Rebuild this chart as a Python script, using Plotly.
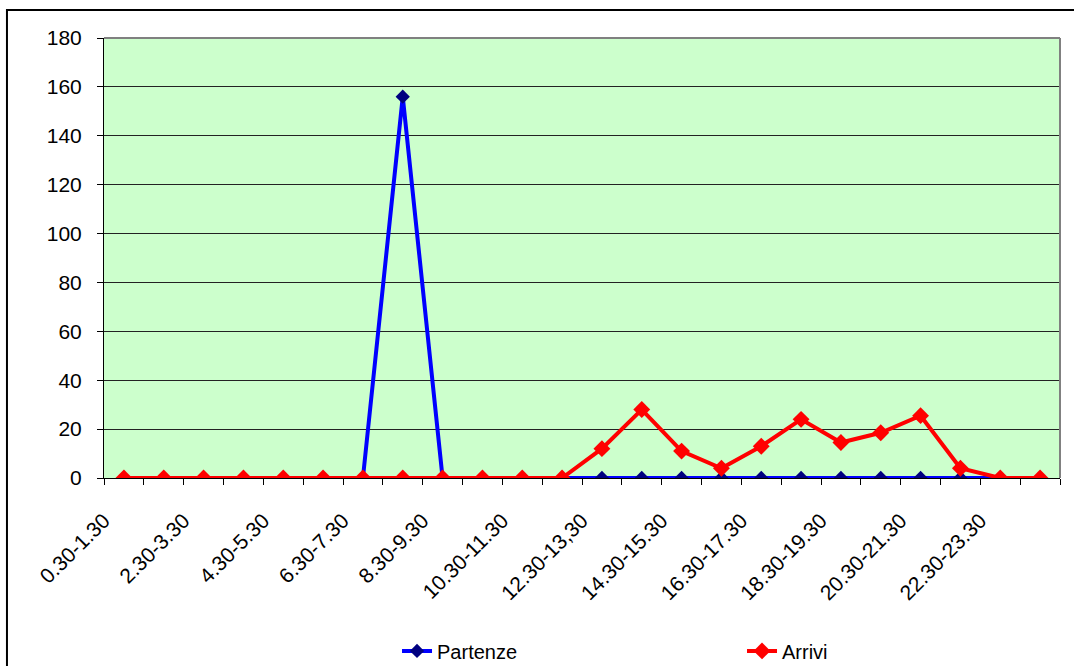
import plotly.graph_objects as go

# Fasce orarie (hourly slots)
fasce = [
    "0.30-1.30", "1.30-2.30", "2.30-3.30", "3.30-4.30", "4.30-5.30", "5.30-6.30",
    "6.30-7.30", "7.30-8.30", "8.30-9.30", "9.30-10.30", "10.30-11.30", "11.30-12.30",
    "12.30-13,30", "13.30-14.30", "14.30-15.30", "15.30-16.30", "16.30-17.30", "17.30-18.30",
    "18.30-19.30", "19.30-20.30", "20.30-21.30", "21.30-22.30", "22.30-23.30", "23.30-0.30",
]

partenze = [0, 0, 0, 0, 0, 0, 0, 156, 0, 0, 0, 0,
            0, 0, 0, 0, 0, 0, 0, 0, 0, 0, 0, 0]
arrivi = [0, 0, 0, 0, 0, 0, 0, 0, 0, 0, 0, 0,
          12, 28, 11, 4, 13, 24, 14.5, 18.5, 25.5, 4, 0, 0]

# only every other slot gets a printed label
etichette = [f if i % 2 == 0 else "" for i, f in enumerate(fasce)]

FONT = "Arial, Liberation Sans, sans-serif"

fig = go.Figure()
fig.add_trace(go.Scatter(
    x=fasce, y=partenze, name="Partenze", mode="lines+markers",
    line=dict(color="#0000FF", width=4),
    marker=dict(symbol="diamond", size=11, color="#000080"),
))
fig.add_trace(go.Scatter(
    x=fasce, y=arrivi, name="Arrivi", mode="lines+markers",
    line=dict(color="#FF0000", width=4),
    marker=dict(symbol="diamond", size=13, color="#FF0000"),
))

fig.update_layout(
    width=1074, height=666,
    margin=dict(l=104, r=14, t=38, b=188, autoexpand=False),
    paper_bgcolor="white",
    plot_bgcolor="#CCFFCC",
    font=dict(family=FONT, size=20, color="black"),
    showlegend=True,
    legend=dict(
        orientation="h", x=0.3065, y=-0.393, xanchor="left", yanchor="middle",
        entrywidth=300, font=dict(family=FONT, size=20, color="black"),
        bgcolor="rgba(0,0,0,0)",
    ),
    xaxis=dict(
        type="category", categoryorder="array", categoryarray=fasce,
        range=[-0.5, 23.5], automargin=False,
        tickmode="array", tickvals=fasce, ticktext=etichette,
        tickangle=-45, tickson="boundaries",
        ticklabelstandoff=21, ticklabelshift=-20,
        ticks="outside", ticklen=6, tickcolor="black",
        showline=True, linecolor="black", linewidth=1,
        showgrid=False, zeroline=False,
        tickfont=dict(family=FONT, size=21, color="black"),
    ),
    yaxis=dict(
        range=[0, 180], tickmode="linear", tick0=0, dtick=20,
        automargin=False, ticklabelstandoff=11,
        ticks="outside", ticklen=6, tickcolor="black",
        showline=True, linecolor="black", linewidth=1,
        showgrid=True, gridcolor="#222222", gridwidth=1,
        zeroline=False,
        tickfont=dict(family=FONT, size=21, color="black"),
    ),
    shapes=[
        # grey plot-area frame (top and right)
        dict(type="line", xref="paper", yref="paper", x0=0, x1=1, y0=1, y1=1,
             line=dict(color="#808080", width=2)),
        dict(type="line", xref="paper", yref="paper", x0=1, x1=1, y0=0, y1=1,
             line=dict(color="#808080", width=2)),
        # outer chart border
        dict(type="rect", xref="paper", yref="paper",
             x0=-0.1015, x1=1.03, y0=-0.47, y1=1.0636,
             line=dict(color="black", width=2), layer="below"),
    ],
)

fig.write_html("out.html")
